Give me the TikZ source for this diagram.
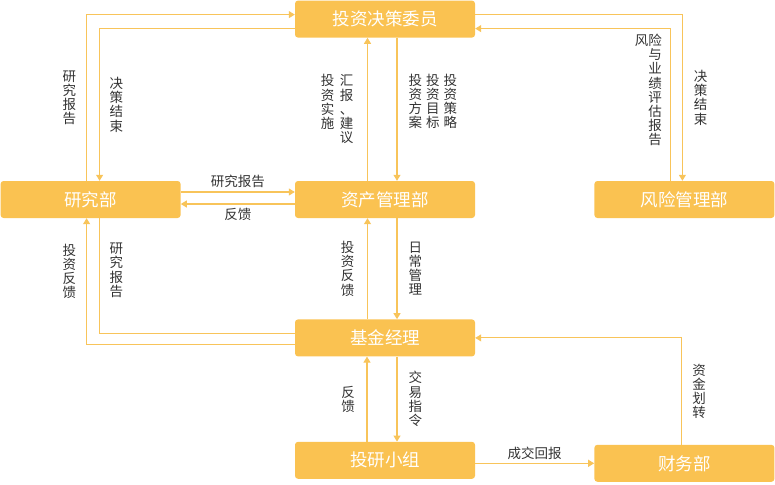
\documentclass[tikz,border=0pt]{standalone}
\usepackage{fontspec}
\setmainfont{Noto Sans CJK SC}
\usetikzlibrary{arrows.meta,positioning,calc}
\definecolor{gold}{HTML}{FAC251}
\definecolor{goldln}{HTML}{F8C45A}
\definecolor{ink}{HTML}{333333}
\newcommand{\vcol}[1]{\parbox[t]{1em}{\centering #1}}
\tikzset{
  box/.style={rectangle,rounded corners=3pt,fill=gold,text=white,minimum width=180pt,
              minimum height=37pt,inner sep=0pt,font=\fontsize{17.5}{20}\selectfont},
  fl/.style={-{Triangle[length=6pt,width=7pt]},line width=1.1pt,draw=goldln},
  ln/.style={line width=1.1pt,draw=goldln},
  lbl/.style={text=ink,font=\fontsize{13.5}{14.2}\selectfont},
  vlbl/.style={lbl,inner sep=0pt},
}
\begin{document}
\begin{tikzpicture}[x=1pt,y=-1pt]
\useasboundingbox (0,0) rectangle (775,484);
% boxes
\node[box] (zc) at (385,199.5) {资产管理部};
\node[box, left=114pt of zc] (yj) {研究部};
\node[box, right=119pt of zc] (fx) {风险管理部};
\node[box, above=143pt of zc] (tj) {投资决策委员};
\node[box, below=101pt of zc] (jj) {基金经理};
\node[box, below=85pt of jj] (ty) {投研小组};
\node[box, right=119pt of ty, yshift=-3pt] (cw) {财务部};
% top left
\draw[fl] ([xshift=-4pt]yj.north) |- node[vlbl, pos=.25, left=10pt] {\vcol{研\\究\\报\\告}} ([yshift=4.5pt]tj.west);
\draw[fl] ([yshift=-9.5pt]tj.west) -| node[vlbl, pos=.75, right=9.5pt] {\vcol{决\\策\\结\\束}} ([xshift=9pt]yj.north);
% top middle
\draw[fl] ([xshift=-17.5pt]zc.north) -- node[vlbl, left=13.5pt] {\vcol{投\\资\\实\\施}\hspace{5.5pt}\vcol{汇\\报\\、\\建\\议}} ([xshift=-17.5pt]tj.south);
\draw[fl] ([xshift=12pt]tj.south) -- node[vlbl, pos=.444, right=11pt] {\vcol{投\\资\\方\\案}\hspace{4pt}\vcol{投\\资\\目\\标}\hspace{4pt}\vcol{投\\资\\策\\略}} ([xshift=12pt]zc.north);
% top right
\draw[fl] ([yshift=4.5pt]tj.east) -| node[vlbl, pos=.75, right=11pt] {\vcol{决\\策\\结\\束}} ([xshift=-2pt]fx.north);
\draw[fl] ([xshift=-14pt]fx.north) |- node[vlbl, pos=.298, left=8pt, align=right] {风险\\与\\业\\绩\\评\\估\\报\\告} ([yshift=-9.5pt]tj.east);
% research <-> asset management
\draw[fl] ([yshift=7.5pt]yj.east) -- node[lbl, above] {研究报告} ([yshift=7.5pt]zc.west);
\draw[fl] ([yshift=-4.5pt]zc.west) -- node[lbl, below] {反馈} ([yshift=-4.5pt]yj.east);
% research <-> fund manager
\draw[fl] ([yshift=-6.5pt]jj.west) -| node[vlbl, pos=.79, left=10pt] {\vcol{投\\资\\反\\馈}} ([xshift=-4pt]yj.south);
\draw[ln] ([xshift=9pt]yj.south) |- node[vlbl, pos=.226, right=9.5pt] {\vcol{研\\究\\报\\告}} ([yshift=4.5pt]jj.west);
% asset management <-> fund manager
\draw[fl] ([xshift=-17.5pt]jj.north) -- node[vlbl, left=12.5pt] {\vcol{投\\资\\反\\馈}} ([xshift=-17.5pt]zc.south);
\draw[fl] ([xshift=12pt]zc.south) -- node[vlbl, right=11pt] {\vcol{日\\常\\管\\理}} ([xshift=12pt]jj.north);
% fund manager <-> team
\draw[fl] ([xshift=-18pt]ty.north) -- node[vlbl, left=11.5pt] {\vcol{反\\馈}} ([xshift=-18pt]jj.south);
\draw[fl] ([xshift=12pt]jj.south) -- node[vlbl, right=11pt] {\vcol{交\\易\\指\\令}} ([xshift=12pt]ty.north);
% team -> finance -> fund manager
\draw[fl] (ty.east |- cw.west) -- node[lbl, above] {成交回报} (cw.west);
\draw[fl] ([xshift=-2.5pt]cw.north) |- node[vlbl, pos=.25, right=10pt] {\vcol{资\\金\\划\\转}} (jj.east);
\end{tikzpicture}
\end{document}
